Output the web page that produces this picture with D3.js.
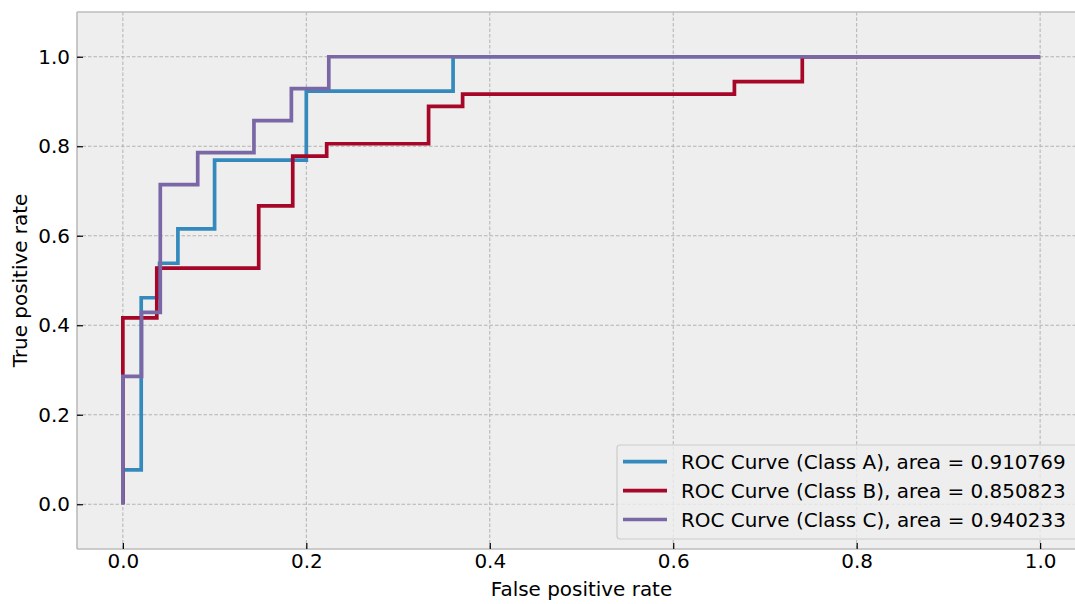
<!DOCTYPE html>
<html>
<head>
<meta charset="utf-8">
<script src="https://cdn.jsdelivr.net/npm/d3@7"></script>
<style>
  html, body { margin: 0; padding: 0; background: #ffffff; }
  svg { display: block; font-family: "DejaVu Sans", sans-serif; }
</style>
</head>
<body>
<svg id="chart" width="1075" height="604"></svg>
<script>
// ---- data ----
const seriesNames = ["ROC Curve (Class A), area = 0.910769",
                     "ROC Curve (Class B), area = 0.850823",
                     "ROC Curve (Class C), area = 0.940233"];
const seriesColors = ["#348ABD", "#A60628", "#7A68A6"];

const fprA = [0, 0, 0.02, 0.02, 0.04, 0.04, 0.06, 0.06, 0.10, 0.10, 0.20, 0.20, 0.36, 0.36, 1.0];
const tprA = [0, 0.0769, 0.0769, 0.4615, 0.4615, 0.5385, 0.5385, 0.6154, 0.6154, 0.7692, 0.7692, 0.9231, 0.9231, 1.0, 1.0];

const fprB = [0, 0, 0.0370, 0.0370, 0.1481, 0.1481, 0.1852, 0.1852, 0.2222, 0.2222, 0.3333, 0.3333, 0.3704, 0.3704, 0.6667, 0.6667, 0.7407, 0.7407, 1.0];
const tprB = [0, 0.4167, 0.4167, 0.5278, 0.5278, 0.6667, 0.6667, 0.7778, 0.7778, 0.8056, 0.8056, 0.8889, 0.8889, 0.9167, 0.9167, 0.9444, 0.9444, 1.0, 1.0];

const fprC = [0, 0, 0.0204, 0.0204, 0.0408, 0.0408, 0.0816, 0.0816, 0.1429, 0.1429, 0.1837, 0.1837, 0.2245, 0.2245, 1.0];
const tprC = [0, 0.2857, 0.2857, 0.4286, 0.4286, 0.7143, 0.7143, 0.7857, 0.7857, 0.8571, 0.8571, 0.9286, 0.9286, 1.0, 1.0];

const xTicks = [0, 0.2, 0.4, 0.6, 0.8, 1.0];
const yTicks = [0, 0.2, 0.4, 0.6, 0.8, 1.0];
const xLabel = "False positive rate";
const yLabel = "True positive rate";

// ---- layout ----
const svg = d3.select("#chart");
const plot = { left: 77, right: 1086, top: 12, bottom: 549 };
const x = d3.scaleLinear().domain([-0.05, 1.05]).range([plot.left, plot.right]);
const y = d3.scaleLinear().domain([-0.1, 1.1]).range([plot.bottom, plot.top]);

// calibrate font size so the legend text spans ~385px like the reference
let fs = 20;
{
  const probe = svg.append("text").attr("font-size", 100).text(seriesNames[0]);
  const w = probe.node().getComputedTextLength();
  probe.remove();
  if (w > 0) fs = Math.max(17, Math.min(22, 100 * 385 / w));
}
const lw = 3.7;

// background
svg.append("rect")
  .attr("x", plot.left).attr("y", plot.top)
  .attr("width", plot.right - plot.left).attr("height", plot.bottom - plot.top)
  .attr("fill", "#eeeeee");

// grid
const grid = svg.append("g");
grid.selectAll(".gx").data(xTicks).join("line")
  .attr("x1", d => x(d)).attr("x2", d => x(d))
  .attr("y1", plot.top).attr("y2", plot.bottom)
  .attr("stroke", "#b2b2b2").attr("stroke-width", 1)
  .attr("stroke-dasharray", "3.5,2");
grid.selectAll(".gy").data(yTicks).join("line")
  .attr("y1", d => y(d)).attr("y2", d => y(d))
  .attr("x1", plot.left).attr("x2", plot.right)
  .attr("stroke", "#b2b2b2").attr("stroke-width", 1)
  .attr("stroke-dasharray", "3.5,2");

// lines
const series = [
  { fpr: fprA, tpr: tprA },
  { fpr: fprB, tpr: tprB },
  { fpr: fprC, tpr: tprC }
];
const line = d3.line().x(d => x(d[0])).y(d => y(d[1]));
series.forEach((s, i) => {
  const pts = s.fpr.map((v, j) => [v, s.tpr[j]]);
  svg.append("path")
    .datum(pts)
    .attr("d", line)
    .attr("fill", "none")
    .attr("stroke", seriesColors[i])
    .attr("stroke-width", lw)
    .attr("stroke-linejoin", "miter")
    .attr("stroke-linecap", "butt");
});

// frame
const frame = svg.append("g").attr("stroke", "#bcbcbc").attr("stroke-width", 1.6).attr("fill", "none");
frame.append("line").attr("x1", plot.left).attr("x2", plot.left).attr("y1", plot.top).attr("y2", plot.bottom);
frame.append("line").attr("x1", plot.left).attr("x2", plot.right).attr("y1", plot.top).attr("y2", plot.top);
frame.append("line").attr("x1", plot.left).attr("x2", plot.right).attr("y1", plot.bottom).attr("y2", plot.bottom);

// axes
const xAxis = d3.axisBottom(x).tickValues(xTicks).tickFormat(d3.format(".1f"))
  .tickSizeInner(-6).tickSizeOuter(0).tickPadding(5);
const gx = svg.append("g").attr("transform", `translate(0,${plot.bottom})`).call(xAxis);
gx.select(".domain").remove();
gx.selectAll(".tick line").attr("stroke", "#000").attr("stroke-width", 1.2);
gx.selectAll(".tick text").attr("font-size", fs).attr("font-family", "DejaVu Sans").attr("fill", "#000");

const yAxis = d3.axisLeft(y).tickValues(yTicks).tickFormat(d3.format(".1f"))
  .tickSizeInner(-6).tickSizeOuter(0).tickPadding(7);
const gy = svg.append("g").attr("transform", `translate(${plot.left},0)`).call(yAxis);
gy.select(".domain").remove();
gy.selectAll(".tick line").attr("stroke", "#000").attr("stroke-width", 1.2);
gy.selectAll(".tick text").attr("font-size", fs).attr("font-family", "DejaVu Sans").attr("fill", "#000");

// axis labels
svg.append("text")
  .attr("x", x(0.5)).attr("y", 596)
  .attr("text-anchor", "middle")
  .attr("font-size", fs).attr("fill", "#000")
  .text(xLabel);
svg.append("text")
  .attr("transform", `translate(26.5,${(plot.top + plot.bottom) / 2}) rotate(-90)`)
  .attr("text-anchor", "middle")
  .attr("font-size", fs).attr("fill", "#000")
  .text(yLabel);

// legend
const lg = svg.append("g");
lg.append("rect")
  .attr("x", 617).attr("y", 445).attr("width", 470).attr("height", 94)
  .attr("rx", 3).attr("ry", 3)
  .attr("fill", "#eeeeee").attr("fill-opacity", 0.8)
  .attr("stroke", "#cccccc").attr("stroke-width", 1.2);
const rowY = [461.7, 490.7, 519.5];
seriesNames.forEach((name, i) => {
  lg.append("line")
    .attr("x1", 623).attr("x2", 667)
    .attr("y1", rowY[i]).attr("y2", rowY[i])
    .attr("stroke", seriesColors[i]).attr("stroke-width", lw);
  lg.append("text")
    .attr("x", 681).attr("y", rowY[i]).attr("dy", "0.36em")
    .attr("font-size", fs).attr("fill", "#000")
    .text(name);
});
</script>
</body>
</html>
